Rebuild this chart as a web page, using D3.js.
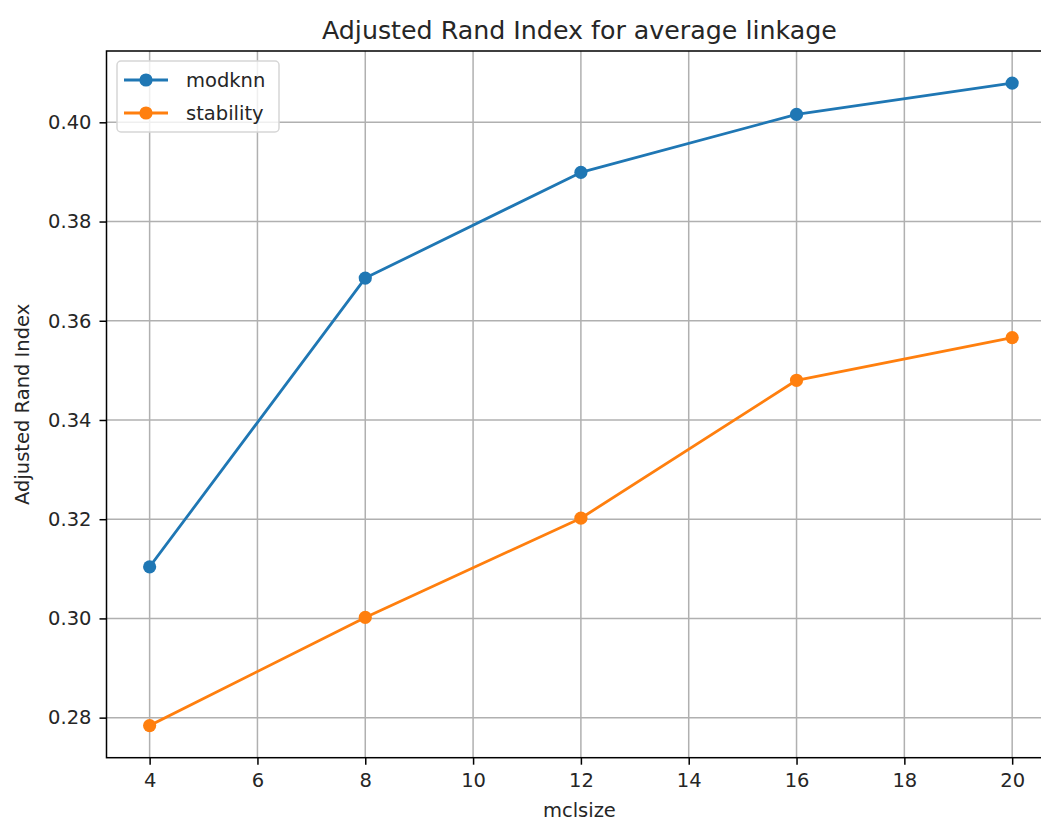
<!DOCTYPE html>
<html>
<head>
<meta charset="utf-8">
<script src="https://cdn.jsdelivr.net/npm/d3@7"></script>
<style>
  html, body { margin: 0; padding: 0; background: #ffffff; }
  svg { display: block; font-family: "DejaVu Sans", sans-serif; }
</style>
</head>
<body>
<svg id="chart" width="1041" height="821"></svg>
<script>
// ---- data ----
const mclsize = [4, 8, 12, 16, 20];
const modknn = [0.3104, 0.3686, 0.3899, 0.4016, 0.4079];
const stability = [0.2784, 0.3002, 0.3202, 0.3480, 0.3566];
const xTicks = [4, 6, 8, 10, 12, 14, 16, 18, 20];
const yTicks = [0.28, 0.30, 0.32, 0.34, 0.36, 0.38, 0.40];
const seriesNames = ["modknn", "stability"];
const seriesColors = ["#1f77b4", "#ff7f0e"];
const chartTitle = "Adjusted Rand Index for average linkage";
const xLabel = "mclsize";
const yLabel = "Adjusted Rand Index";

(function () {
// ---- layout ----
const W = 1041, H = 821;
const pL = 106.5, pT = 51, pB = 757.7, pR = 1055.3;
const tickFont = 19.5, labelFont = 19.5, titleFont = 25.3;

const svg = d3.select("#chart");
svg.append("rect").attr("width", W).attr("height", H).attr("fill", "#fff");

// matplotlib-like 5% margins
const xMin = d3.min(mclsize), xMax = d3.max(mclsize);
const xPad = (xMax - xMin) * 0.05;
const allY = modknn.concat(stability);
const yMin = d3.min(allY), yMax = d3.max(allY);
const yPad = (yMax - yMin) * 0.05;

const x = d3.scaleLinear().domain([xMin - xPad, xMax + xPad]).range([pL, pR]);
const y = d3.scaleLinear().domain([yMin - yPad, yMax + yPad]).range([pB, pT]);

// grid
const grid = svg.append("g");
grid.selectAll("line.gx").data(xTicks).join("line").attr("class", "gx")
  .attr("x1", d => x(d)).attr("x2", d => x(d))
  .attr("y1", pT).attr("y2", pB)
  .attr("stroke", "#b0b0b0").attr("stroke-width", 1.5);
grid.selectAll("line.gy").data(yTicks).join("line").attr("class", "gy")
  .attr("y1", d => y(d)).attr("y2", d => y(d))
  .attr("x1", pL).attr("x2", pR)
  .attr("stroke", "#b0b0b0").attr("stroke-width", 1.5);

// axes
const xAxis = d3.axisBottom(x).tickValues(xTicks).tickFormat(d3.format("d"))
  .tickSizeInner(7).tickSizeOuter(0).tickPadding(8);
const yAxis = d3.axisLeft(y).tickValues(yTicks).tickFormat(d3.format(".2f"))
  .tickSizeInner(7).tickSizeOuter(0).tickPadding(8);

const gx = svg.append("g").attr("transform", `translate(0,${pB})`).call(xAxis);
const gy = svg.append("g").attr("transform", `translate(${pL},0)`).call(yAxis);
[gx, gy].forEach(g => {
  g.select(".domain").remove();
  g.selectAll(".tick line").attr("stroke", "#000").attr("stroke-width", 1.5);
  g.selectAll(".tick text").attr("fill", "#262626")
    .style("font-family", "DejaVu Sans").style("font-size", tickFont + "px");
});

// spines
svg.append("rect")
  .attr("x", pL).attr("y", pT)
  .attr("width", pR - pL).attr("height", pB - pT)
  .attr("fill", "none").attr("stroke", "#000").attr("stroke-width", 1.5);

// series
const seriesData = [modknn, stability];
const line = d3.line().x((d, i) => x(mclsize[i])).y(d => y(d));
seriesData.forEach((vals, k) => {
  svg.append("path").datum(vals)
    .attr("d", line)
    .attr("fill", "none")
    .attr("stroke", seriesColors[k])
    .attr("stroke-width", 2.8)
    .attr("stroke-linejoin", "round")
    .attr("stroke-linecap", "square");
  svg.append("g").selectAll("circle").data(vals).join("circle")
    .attr("cx", (d, i) => x(mclsize[i]))
    .attr("cy", d => y(d))
    .attr("r", 6.6)
    .attr("fill", seriesColors[k]);
});

// title and labels
const cx = (pL + pR) / 2 - 1.5;
svg.append("text")
  .attr("x", cx).attr("y", 38.5)
  .attr("text-anchor", "middle")
  .attr("fill", "#262626")
  .style("font-size", titleFont + "px")
  .text(chartTitle);

svg.append("text")
  .attr("x", cx).attr("y", 817)
  .attr("text-anchor", "middle")
  .attr("fill", "#262626")
  .style("font-size", labelFont + "px")
  .text(xLabel);

svg.append("text")
  .attr("transform", `translate(29,${(pT + pB) / 2}) rotate(-90)`)
  .attr("text-anchor", "middle")
  .attr("fill", "#262626")
  .style("font-size", labelFont + "px")
  .text(yLabel);

// legend
const lg = svg.append("g").attr("transform", "translate(117,61)");
lg.append("rect")
  .attr("width", 162).attr("height", 71)
  .attr("rx", 4).attr("ry", 4)
  .attr("fill", "rgba(255,255,255,0.8)")
  .attr("stroke", "#d6d6d6").attr("stroke-width", 1.5);
seriesNames.forEach((name, k) => {
  const cy = 19 + k * 33;
  lg.append("line").attr("x1", 7).attr("x2", 51).attr("y1", cy).attr("y2", cy)
    .attr("stroke", seriesColors[k]).attr("stroke-width", 2.8);
  lg.append("circle").attr("cx", 29).attr("cy", cy).attr("r", 6.6).attr("fill", seriesColors[k]);
  lg.append("text").attr("x", 69).attr("y", cy + 7)
    .attr("fill", "#262626")
    .style("font-size", tickFont + "px")
    .text(name);
});
})();
</script>
</body>
</html>
